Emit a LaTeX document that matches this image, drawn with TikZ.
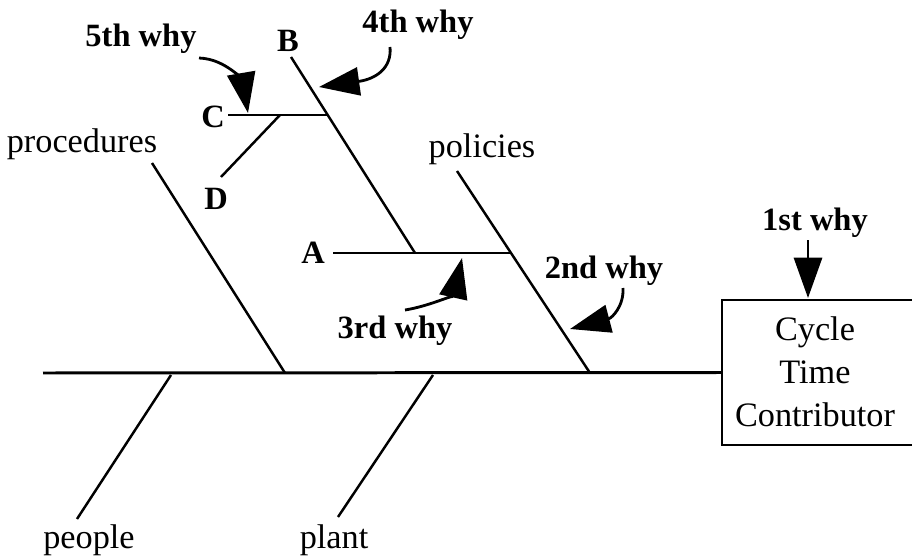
\documentclass[tikz,border=0pt]{standalone}
\usepackage{fontspec}
\setmainfont{Liberation Serif}
\usetikzlibrary{arrows.meta}

\begin{document}
\begin{tikzpicture}[x=0.02cm,y=-0.02cm,
  bone/.style={line width=1.4pt},
  cause/.style={anchor=base,font=\fontsize{19.5}{24}\selectfont},
  why/.style={anchor=base,font=\fontsize{18.5}{22}\selectfont\bfseries},
  pointer/.style={-{Triangle[length=23pt,width=16pt]},line width=1.6pt}]
\useasboundingbox (0,0) rectangle (912,557);
% effect box (runs off the right edge) and spine
\node[minimum width=3.8cm,minimum height=2.9cm] (box) at (817,372.5) {};
\draw[line width=1.2pt] (box.north east)--(box.north west)--(box.south west)--(box.south east);
\node[align=center,font=\fontsize{19.5}{24.4}\selectfont] (effect) at (815,372) {Cycle\\Time\\Contributor};
\coordinate (tail) at (43,373);
\draw[bone,line width=1.7pt] (tail)--(box.west);
% main bones
\coordinate (proc) at (152,163);  \coordinate (procend) at (285,373);
\coordinate (pol) at (457,171);   \coordinate (polend) at (590,373);
\coordinate (peop) at (77,519);   \coordinate (peopend) at (171,375);
\coordinate (plan) at (338,517);  \coordinate (planend) at (433,375);
\draw[bone] (proc)--(procend);
\draw[bone] (pol)--(polend);
\draw[bone] (peop)--(peopend);
\draw[bone] (plan)--(planend);
\node[cause] (procedures) at (82,153) {procedures};
\node[cause] (policies) at (482,158) {policies};
\node[cause] (people) at (89,548) {people};
\node[cause] (plant) at (334,548) {plant};
% sub-causes
\coordinate (a0) at (333,253); \coordinate (a1) at (511,253);
\coordinate (b0) at (291,57);  \coordinate (b1) at (415,253);
\coordinate (c0) at (228,115); \coordinate (c1) at (328,115);
\coordinate (d0) at (221,177); \coordinate (d1) at (280,115);
\draw[bone] (a0)--(a1);
\draw[bone] (b0)--(b1);
\draw[bone] (c0)--(c1);
\draw[bone] (d0)--(d1);
\node[why] (A) at (313,263) {A};
\node[why] (B) at (288,52) {B};
\node[why] (C) at (213,128) {C};
\node[why] (D) at (216,210) {D};
% the whys
\node[why] (why1) at (815,231) {1st why};
\node[why] (why2) at (604,278) {2nd why};
\node[why] (why3) at (395,338) {3rd why};
\node[why] (why4) at (418,33) {4th why};
\node[why] (why5) at (141,47) {5th why};
\coordinate (s1) at (808,240); \coordinate (t1) at (808,298);
\coordinate (s2) at (623,288); \coordinate (t2) at (570,329);
\coordinate (s3) at (405,310); \coordinate (t3) at (462,258);
\coordinate (s4) at (390,47);  \coordinate (t4) at (319,87);
\coordinate (s5) at (199,58);  \coordinate (t5) at (248,113);
\draw[pointer] (s1)--(t1);
\draw[pointer] (s2) .. controls (624,306) and (612,318) .. (t2);
\draw[pointer] (s3) .. controls (430,306) and (454,294) .. (t3);
\draw[pointer] (s4) .. controls (392,68) and (376,79) .. (t4);
\draw[pointer] (s5) .. controls (228,59) and (243,84) .. (t5);
\end{tikzpicture}
\end{document}
